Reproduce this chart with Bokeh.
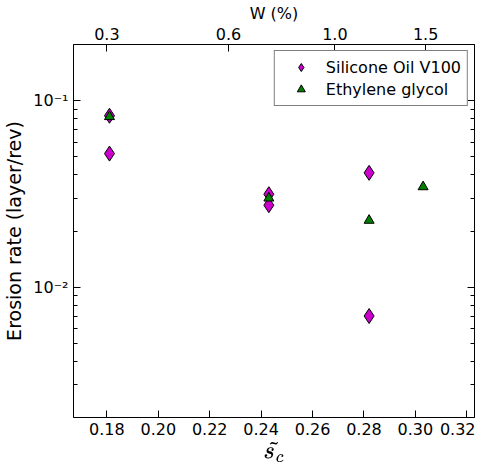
from bokeh.plotting import figure
from bokeh.models import LinearAxis, FixedTicker, LogAxis, TeX
from bokeh.embed import file_html
from bokeh.resources import INLINE

si_x = [0.181, 0.181, 0.243, 0.243, 0.282, 0.282]
si_y = [0.083, 0.052, 0.0315, 0.0275, 0.041, 0.0070]
eg_x = [0.181, 0.243, 0.282, 0.303]
eg_y = [0.082, 0.030, 0.0228, 0.0345]
w_pos = [0.180, 0.2273, 0.2687, 0.304]
w_labels = ["0.3", "0.6", "1.0", "1.5"]
x_ticks = [0.18, 0.20, 0.22, 0.24, 0.26, 0.28, 0.30, 0.32]
minors = [0.002,0.003,0.004,0.005,0.006,0.007,0.008,0.009,0.02,0.03,0.04,0.05,0.06,0.07,0.08,0.09,0.2]

p = figure(width=475, height=466, output_backend="svg", toolbar_location=None,
           y_axis_type="log", x_range=(0.167, 0.323), y_range=(0.002, 0.2),
           min_border_left=27, min_border_right=1, min_border_top=14, min_border_bottom=0)
p.xgrid.visible = False
p.ygrid.visible = False
p.outline_line_color = "black"

p.scatter(si_x, si_y, marker="diamond", size=15, fill_color="#cc00cc", line_color="black",
          legend_label="Silicone Oil V100")
p.scatter(eg_x, eg_y, marker="triangle", size=10, fill_color="#008000", line_color="black",
          legend_label="Ethylene glycol")

for ax in [p.xaxis[0], p.yaxis[0]]:
    ax.major_tick_in = 7
    ax.major_tick_out = 0
    ax.minor_tick_in = 4
    ax.minor_tick_out = 0
    ax.axis_line_color = None
    ax.major_label_text_font_size = "16px"
    ax.major_label_text_font = "DejaVu Sans"
    ax.major_label_text_color = "black"
    ax.axis_label_text_font_style = "normal"
    ax.axis_label_text_font = "DejaVu Sans"
    ax.axis_label_text_color = "black"

p.xaxis[0].ticker = FixedTicker(ticks=x_ticks)
p.xaxis[0].major_label_overrides = {t: "%.2f" % t for t in x_ticks}
p.xaxis[0].axis_label = TeX(r"\tilde{s_c}")
p.xaxis[0].axis_label_text_font_size = "20px"
p.xaxis[0].axis_label_standoff = 2
p.yaxis[0].ticker = FixedTicker(ticks=[0.01, 0.1], minor_ticks=minors)
p.yaxis[0].major_label_overrides = {0.01: "10⁻²", 0.1: "10⁻¹"}
p.yaxis[0].axis_label = "Erosion rate (layer/rev)"
p.yaxis[0].axis_label_text_font_size = "19px"

top = LinearAxis(ticker=FixedTicker(ticks=w_pos),
                 major_label_overrides={v: l for v, l in zip(w_pos, w_labels)},
                 axis_label="W (%)", major_tick_in=7, major_tick_out=0, minor_tick_in=0,
                 minor_tick_out=0, axis_line_color=None, major_label_text_font_size="16px",
                 axis_label_text_font_size="16px", axis_label_text_font_style="normal",
                 major_label_text_font="DejaVu Sans", axis_label_text_font="DejaVu Sans",
                 major_label_text_color="black", axis_label_text_color="black",
                 axis_label_standoff=2)
p.add_layout(top, "above")
right = LogAxis(ticker=FixedTicker(ticks=[0.01, 0.1], minor_ticks=minors),
                major_label_text_alpha=0, major_label_text_font_size="6px",
                major_tick_in=7, major_tick_out=0,
                minor_tick_in=4, minor_tick_out=0, axis_line_color=None)
p.add_layout(right, "right")

p.legend.location = "top_right"
p.legend.label_text_font = "DejaVu Sans"
p.legend.label_text_font_size = "16px"
p.legend.label_text_color = "black"
p.legend.border_line_color = "black"
p.legend.glyph_width = 40
p.legend.spacing = 2
p.legend.padding = 6
p.legend.margin = 6

open("out.html", "w").write(file_html(p, INLINE))
